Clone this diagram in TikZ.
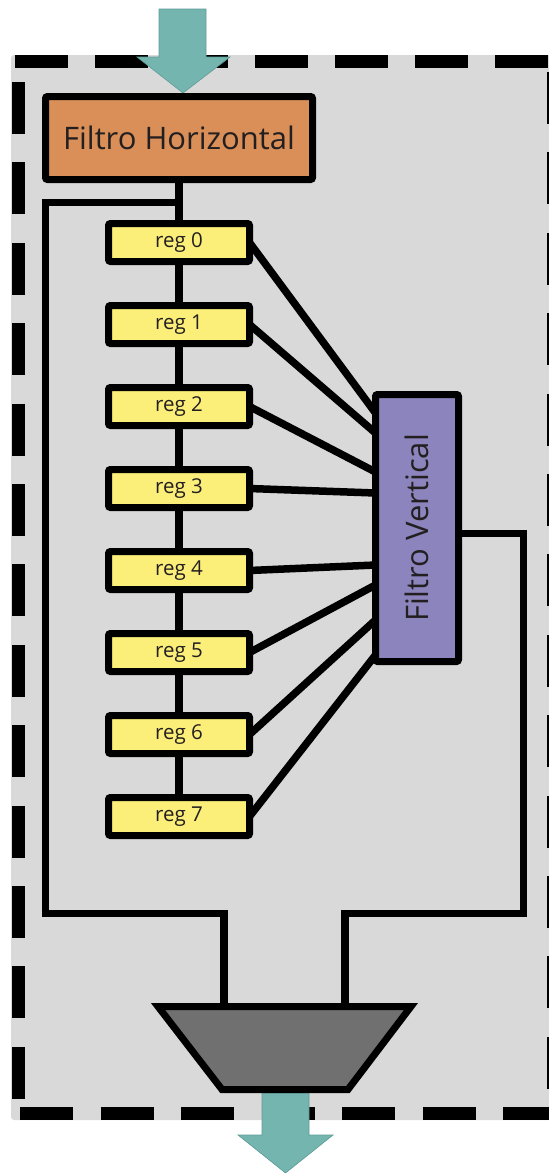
\documentclass[tikz,border=0pt]{standalone}
\usepackage{fontspec}
\setmainfont{Open Sans}
\usetikzlibrary{calc}
\definecolor{bggray}{HTML}{D9D9D9}
\definecolor{fhorange}{HTML}{D98F57}
\definecolor{regyellow}{HTML}{FCEF79}
\definecolor{fvpurple}{HTML}{8B84BD}
\definecolor{flowteal}{HTML}{75B5AF}
\definecolor{flowtealdark}{HTML}{5E9C96}
\definecolor{muxgray}{HTML}{707070}
\definecolor{textdark}{HTML}{231F20}
\pgfdeclarelayer{back}
\pgfdeclarelayer{wires}
\pgfsetlayers{back,wires,main}
\begin{document}
\begin{tikzpicture}[x=1pt,y=-1pt,
  wire/.style={line width=7.5pt, draw=black, line join=miter},
  regbox/.style={draw, line width=7pt, fill=regyellow, minimum width=141pt, minimum height=38pt,
    inner sep=0pt, outer sep=0pt, rounded corners=2pt, text=textdark, font=\fontsize{20.5}{20.5}\selectfont},
  bigbox/.style={draw, line width=7pt, minimum width=267pt, minimum height=83pt, inner sep=0pt,
    outer sep=0pt, rounded corners=2pt, text=textdark, font=\fontsize{31}{31}\selectfont},
  border/.style={line width=13pt, draw=black},
  flowarrow/.style={fill=flowteal, draw=flowtealdark, line width=0.6pt},
  muxshape/.style={fill=muxgray, draw=black, line width=7pt, line join=miter}
]
\useasboundingbox (0,0) rectangle (549,1173);

\begin{pgfonlayer}{back}
  \fill[bggray, rounded corners=3pt] (11,55) rectangle (565,1120);
  \draw[border, dash pattern=on 53pt off 27pt] (15,61.5) -- (565,61.5);
  \draw[border, dash pattern=on 53pt off 27.5pt] (20,1113.5) -- (565,1113.5);
  \draw[border, dash pattern=on 52pt off 28.4pt] (18,82) -- (18,1100);
  \draw[border, dash pattern=on 52pt off 28.4pt] (553.5,72) -- (553.5,1100);
\end{pgfonlayer}

% input / output arrows
\draw[flowarrow] (159,9) -- (206,9) -- (206,57) -- (230,57) -- (183,93) -- (137,57) -- (159,57) -- cycle;
\draw[flowarrow] (262,1093) -- (309,1093) -- (309,1135) -- (333,1135) -- (285.5,1173) -- (238,1135) -- (262,1135) -- cycle;

% blocks
\node[bigbox, fill=fhorange] (fh) at (179,138) {Filtro Horizontal};
\foreach \k in {0,...,7}{
  \node[regbox] (r\k) at (179,{242.5+82*\k}) {reg \k};
}
\node[bigbox, fill=fvpurple, rotate=90] (fv) at (417,528) {Filtro Vertical};

% multiplexer
\draw[muxshape] (158,1006.5) -- (411,1006.5) -- (348,1089.5) -- (222,1089.5) -- cycle;
\coordinate (muxinL) at (224,1006.5);
\coordinate (muxinR) at (345,1006.5);
\coordinate (split) at (179,202.5);

\begin{pgfonlayer}{wires}
  \draw[wire] (fh.south) -- (r0.north);
  \foreach \a/\b in {0/1,1/2,2/3,3/4,4/5,5/6,6/7}{
    \draw[wire] (r\a.south) -- (r\b.north);
  }
  \foreach \k/\dy in {0/-115,1/-95,2/-56,3/-35,4/37,5/57,6/92,7/127}{
    \draw[wire] (r\k.east) -- ($(fv.north)+(0,\dy)$);
  }
  \draw[wire] (split) -- (45.5,202.5) -- (45.5,913.5) -| (muxinL);
  \draw[wire] ($(fv.south)+(0,5.5)$) -- (523.5,533.5) -- (523.5,913.5) -| (muxinR);
\end{pgfonlayer}
\end{tikzpicture}
\end{document}
